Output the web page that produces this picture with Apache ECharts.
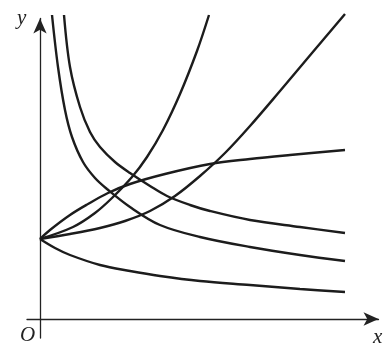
<!DOCTYPE html>
<html>
<head>
<meta charset="utf-8">
<script src="https://cdn.jsdelivr.net/npm/echarts@6/dist/echarts.min.js"></script>
<style>html,body{margin:0;padding:0;background:#fff;}#c{width:388px;height:350px;}</style>
</head>
<body>
<div id="c"></div>
<script>
// Curves (x, y in the figure's own units, origin at O)
var curveA_x = [0, 33, 55, 72, 92, 107, 123, 140, 157, 169];
var curveA_y = [80, 92, 106, 121, 142, 162, 189, 225, 268, 304];

var curveB_x = [0, 30, 60, 85, 110, 135, 160, 185, 210, 240, 272, 305];
var curveB_y = [80, 85, 91, 98, 108, 123, 143, 166, 193, 228, 266, 305];

var curveC_x = [0, 10, 30, 48, 68, 90, 125, 170, 210, 250, 305];
var curveC_y = [80, 89, 104, 115, 126, 135, 145, 155, 160, 164, 169];

var curveD_x = [0, 15, 30, 60, 90, 120, 160, 210, 260, 305];
var curveD_y = [80, 71, 64, 54, 48, 43, 38, 34, 30, 27];

var curveE_x = [12, 18, 25, 32, 43, 55, 67, 90, 120, 160, 210, 260, 305];
var curveE_y = [304, 252, 209, 182, 157, 141, 130, 112, 94, 82, 72, 64, 58];

var curveF_x = [24, 30, 40, 50, 60, 75, 90, 110, 127, 150, 170, 210, 260, 305];
var curveF_y = [304, 252, 212, 187, 172, 157, 146, 133, 123, 114, 108, 99, 92, 86];

var axisLabels = { x: 'x', y: 'y', origin: 'O' };

function pairs(xs, ys) {
  var out = [];
  for (var i = 0; i < xs.length; i++) out.push([xs[i], ys[i]]);
  return out;
}

var curveStyle = { color: '#1c1c1c', width: 2.4 };
function curve(name, xs, ys) {
  return {
    name: name, type: 'line', data: pairs(xs, ys),
    smooth: 0.35, showSymbol: false, clip: false,
    lineStyle: curveStyle, itemStyle: { color: '#1c1c1c' }, silent: true
  };
}

var chart = echarts.init(document.getElementById('c'), null, { renderer: 'canvas' });
var axisLineStyle = { color: '#222', width: 1.3 };
chart.setOption({
  animation: false,
  backgroundColor: '#fff',
  grid: { left: 27, right: 9.5, top: 18.5, bottom: 12, containLabel: false },
  xAxis: {
    type: 'value', min: -13, max: 338.5,
    axisLine: { show: true, onZero: true, symbol: ['none', 'arrow'], symbolSize: [10, 15], lineStyle: axisLineStyle },
    axisTick: { show: false }, axisLabel: { show: false }, splitLine: { show: false }
  },
  yAxis: {
    type: 'value', min: -19, max: 300.5,
    axisLine: { show: true, onZero: true, symbol: ['none', 'arrow'], symbolSize: [10, 15], lineStyle: axisLineStyle },
    axisTick: { show: false }, axisLabel: { show: false }, splitLine: { show: false }
  },
  series: [
    curve('A', curveA_x, curveA_y),
    curve('B', curveB_x, curveB_y),
    curve('C', curveC_x, curveC_y),
    curve('D', curveD_x, curveD_y),
    curve('E', curveE_x, curveE_y),
    curve('F', curveF_x, curveF_y)
  ],
  graphic: [
    { type: 'text', left: 17, top: 8, style: { text: axisLabels.y, font: 'italic 21px "Liberation Serif"', fill: '#222' } },
    { type: 'text', left: 20, top: 325, style: { text: axisLabels.origin, font: 'italic 21px "Liberation Serif"', fill: '#222' } },
    { type: 'text', left: 373, top: 327, style: { text: axisLabels.x, font: 'italic 21px "Liberation Serif"', fill: '#222' } }
  ]
});
</script>
</body>
</html>
